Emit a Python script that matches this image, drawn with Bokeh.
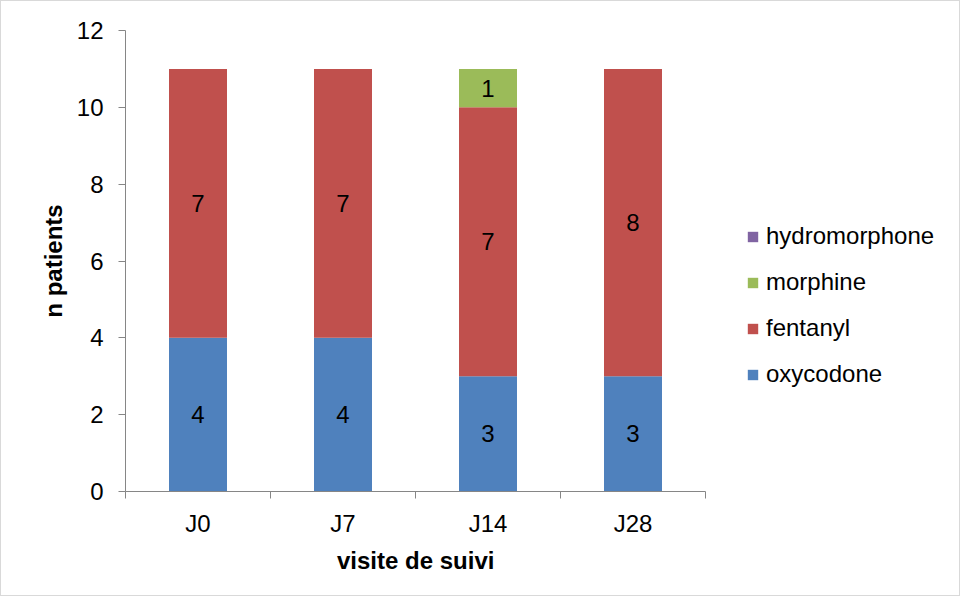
from bokeh.plotting import figure
from bokeh.models import ColumnDataSource, FixedTicker, Legend, LegendItem, Range1d, Title
from bokeh.core.properties import value
from bokeh.embed import file_html
from bokeh.resources import INLINE

categories = ["J0", "J7", "J14", "J28"]
oxycodone = [4, 4, 3, 3]
fentanyl = [7, 7, 7, 8]
morphine = [0, 0, 1, 0]
hydromorphone = [0, 0, 0, 0]
series_names = ["oxycodone", "fentanyl", "morphine", "hydromorphone"]
colors = ["#4F81BD", "#C0504D", "#9BBB59", "#8064A2"]
y_ticks = [0, 2, 4, 6, 8, 10, 12]
x_title = "visite de suivi"
y_title = "n patients"

FONT = "Liberation Sans"
FS = "24px"

W, H = 960, 596
LEFT, RIGHT, TOP, BOTTOM = 124, 0, 29, 106
AXIS_W = 580  # pixel width occupied by the categorical axis
X_TITLE_W = 157  # approx rendered width of the bold x title
frame_w = W - LEFT - RIGHT
n = len(categories)

xs = [i + 0.5 for i in range(n)]
data = dict(x=xs, oxycodone=oxycodone, fentanyl=fentanyl,
            morphine=morphine, hydromorphone=hydromorphone)
source = ColumnDataSource(data)

p = figure(width=W, height=H,
           min_border_left=LEFT, min_border_right=RIGHT, min_border_top=TOP, min_border_bottom=BOTTOM,
           x_range=Range1d(0, n * frame_w / AXIS_W), y_range=Range1d(0, 12),
           output_backend="svg", toolbar_location=None,
           styles={"border": "1px solid #D9D9D9"})

renderers = p.vbar_stack(series_names, x="x", width=0.4, color=colors,
                         line_color=None, source=source)

# segment labels
lx, ly, lt = [], [], []
series_vals = [oxycodone, fentanyl, morphine, hydromorphone]
for i, xv in enumerate(xs):
    base = 0
    for vals in series_vals:
        v = vals[i]
        if v > 0:
            lx.append(xv)
            ly.append(base + v / 2)
            lt.append(str(v))
        base += v
p.text(x=lx, y=ly, text=lt, text_align="center", text_baseline="middle",
       text_font=value(FONT), text_font_size=FS, text_color="#000000")

p.outline_line_color = None
p.grid.grid_line_color = None
p.background_fill_color = "white"
p.border_fill_color = "white"

# y axis
ya = p.yaxis[0]
ya.ticker = FixedTicker(ticks=y_ticks)
ya.axis_line_color = "#868686"
ya.major_tick_line_color = "#868686"
ya.major_tick_out = 7
ya.major_tick_in = 0
ya.minor_tick_line_color = None
ya.major_label_standoff = 15
ya.major_label_text_font = FONT
ya.major_label_text_font_size = FS
ya.major_label_text_color = "#000000"
ya.axis_label = y_title
ya.axis_label_text_font = FONT
ya.axis_label_text_font_size = FS
ya.axis_label_text_font_style = "bold"
ya.axis_label_text_color = "#000000"
ya.axis_label_standoff = 7

# x axis
xa = p.xaxis[0]
xa.bounds = (0, n)
xa.ticker = FixedTicker(ticks=xs, minor_ticks=list(range(n + 1)))
xa.major_label_overrides = {xv: c for xv, c in zip(xs, categories)}
xa.axis_line_color = "#868686"
xa.major_tick_line_color = None
xa.major_tick_out = 0
xa.major_tick_in = 0
xa.minor_tick_line_color = "#868686"
xa.minor_tick_out = 7
xa.minor_tick_in = 0
xa.major_label_standoff = 11
xa.major_label_text_font = FONT
xa.major_label_text_font_size = FS
xa.major_label_text_color = "#000000"

# x-axis title centred under the category axis (not the whole frame)
p.add_layout(Title(text=x_title, align="left", offset=(AXIS_W - X_TITLE_W) / 2,
                   standoff=10, text_font=FONT, text_font_size=FS,
                   text_font_style="bold", text_color="#000000"), "below")

items = [LegendItem(label=nm, renderers=[r]) for nm, r in zip(series_names, renderers)]
legend = Legend(items=list(reversed(items)), location=(621, 94),
                glyph_width=13, glyph_height=13, label_standoff=7,
                spacing=0, label_height=46, padding=0, margin=0,
                label_text_font=FONT, label_text_font_size=FS,
                label_text_color="#000000",
                border_line_color=None, background_fill_alpha=0)
p.add_layout(legend, "center")

open("out.html", "w").write(file_html(p, INLINE))
